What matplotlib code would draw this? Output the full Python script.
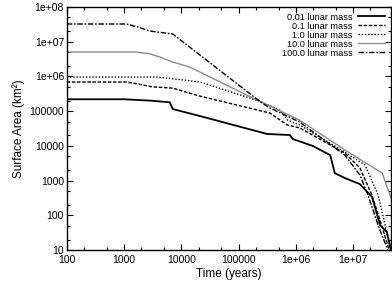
import numpy as np
import matplotlib
matplotlib.use('Agg')
import matplotlib.pyplot as plt
from matplotlib.ticker import FixedLocator, LogLocator, NullFormatter

plt.rcParams['font.family'] = ['Liberation Sans', 'DejaVu Sans']

# curves (time in years, surface area in km^2)
t_001 = [100, 1000, 3000, 6300, 7100, 21400, 3.16e5, 7.9e5, 8.9e5, 2.0e6, 4.0e6, 4.8e6, 7.2e6, 1.32e7, 2.15e7, 2.97e7, 3.9e7, 4.6e7]
a_001 = [2.2e5, 2.2e5, 2.0e5, 1.8e5, 1.15e5, 7.2e4, 2.2e4, 2.05e4, 1.57e4, 9.9e3, 5.4e3, 1.64e3, 1.18e3, 790, 335, 52, 33, 10]

t_01 = [100, 1100, 1800, 3160, 7100, 1.4e4, 2.14e4, 3.55e5, 7.1e5, 1.17e6, 7.2e6, 1.32e7, 2.14e7, 3.16e7, 4.27e7]
a_01 = [6.9e5, 6.9e5, 6.0e5, 5.0e5, 4.6e5, 3.3e5, 2.7e5, 8.8e4, 4.0e4, 3.3e4, 6.2e3, 2.3e3, 380, 52, 10]

t_1 = [100, 3700, 8000, 2.14e4, 2.57e5, 5.25e5, 7.2e5, 1.17e6, 7.2e6, 1.62e7, 2.75e7, 3.63e7, 4.47e7]
a_1 = [9.6e5, 9.6e5, 8.4e5, 6.9e5, 1.83e5, 1.07e5, 5.5e4, 4.0e4, 6.6e3, 2.8e3, 380, 52, 10]

t_10 = [100, 1600, 2800, 4500, 7100, 1.4e4, 2.09e5, 3.55e5, 1.17e6, 7.2e6, 3.24e7, 4.6e7]
a_10 = [5.05e6, 5.05e6, 4.5e6, 3.5e6, 2.6e6, 1.87e6, 2.09e5, 1.4e5, 5.5e4, 7.6e3, 1.64e3, 313]

t_100 = [100, 1100, 1700, 2820, 7100, 1.4e4, 2.57e5, 3.55e5, 1.17e6, 7.2e6, 1.32e7, 1.82e7, 2.95e7, 4.07e7]
a_100 = [3.24e7, 3.24e7, 2.7e7, 2.03e7, 1.67e7, 7.0e6, 1.71e5, 1.23e5, 4.85e4, 5.4e3, 1.44e3, 382, 37, 10]

labels = ['0.01 lunar mass', '0.1 lunar mass', '1.0 lunar mass', '10.0 lunar mass', '100.0 lunar mass']

xticks = [1e2, 1e3, 1e4, 1e5, 1e6, 1e7]
xticklabels = ['100', '1000', '10000', '100000', '1e+06', '1e+07']
yticks = [1e1, 1e2, 1e3, 1e4, 1e5, 1e6, 1e7, 1e8]
yticklabels = ['10', '100', '1000', '10000', '100000', '1e+06', '1e+07', '1e+08']

fig = plt.figure(figsize=(3.92, 2.85), dpi=100)
ax = fig.add_axes([0.1703, 0.1228, 0.8271, 0.8526])

ax.plot(t_001, a_001, color='black', lw=1.3, label=labels[0])
ax.plot(t_01, a_01, color='black', lw=1.0, dashes=(2.5, 1.2), label=labels[1])
ax.plot(t_1, a_1, color='black', lw=1.0, dashes=(1.0, 1.3), label=labels[2])
ax.plot(t_10, a_10, color='#8a8a8a', lw=1.0, label=labels[3])
ax.plot(t_100, a_100, color='black', lw=1.0, dashes=(4, 1.2, 1.2, 1.2), label=labels[4])

ax.set_xscale('log')
ax.set_yscale('log')
ax.set_xlim(100, 4.6e7)
ax.set_ylim(10, 1e8)

ax.xaxis.set_major_locator(FixedLocator(xticks))
ax.set_xticklabels(xticklabels)
ax.yaxis.set_major_locator(FixedLocator(yticks))
ax.set_yticklabels(yticklabels)
ax.xaxis.set_minor_locator(LogLocator(base=10, subs=(2, 5)))
ax.yaxis.set_minor_locator(LogLocator(base=10, subs=(2, 5)))
ax.xaxis.set_minor_formatter(NullFormatter())
ax.yaxis.set_minor_formatter(NullFormatter())

ax.tick_params(which='both', direction='in', top=True, right=True, labelsize=7.5, width=0.8)
ax.tick_params(which='major', length=4)
ax.tick_params(axis='x', which='major', pad=3.5)
ax.tick_params(axis='y', which='major', pad=2)
ax.tick_params(which='minor', length=2)
for s in ax.spines.values():
    s.set_linewidth(1.0)

ax.set_xlabel('Time (years)', fontsize=8.5, labelpad=2)
ax.set_ylabel('Surface Area (km²)', fontsize=8.5, labelpad=3)

ax.legend(loc='upper right', fontsize=6.6, frameon=False, markerfirst=False,
          handlelength=3.0, handletextpad=0.6, labelspacing=0.0,
          borderaxespad=0.3, borderpad=0.3)

plt.savefig('out.png', dpi=100)
